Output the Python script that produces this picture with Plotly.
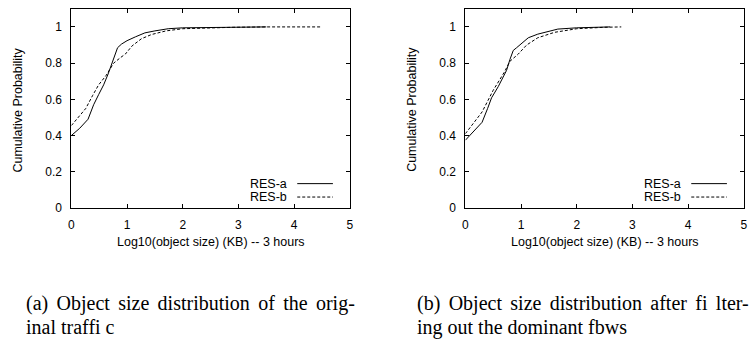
import plotly.graph_objects as go

# Panel (a): original traffic
a_resa_x = [0, 0.15, 0.30, 0.40, 0.49, 0.58, 0.66, 0.73, 0.79, 0.83, 0.90, 1.0, 1.15, 1.32, 1.5, 1.74, 2.0, 2.5, 3.0, 3.5]
a_resa_y = [0.40, 0.44, 0.49, 0.57, 0.626, 0.68, 0.74, 0.80, 0.85, 0.885, 0.905, 0.924, 0.945, 0.967, 0.978, 0.99, 0.995, 0.998, 1.0, 1.0]
a_resb_x = [0, 0.13, 0.26, 0.38, 0.49, 0.62, 0.76, 0.88, 0.97, 1.09, 1.26, 1.44, 1.7, 2.0, 2.5, 2.92, 3.5, 4.0, 4.47]
a_resb_y = [0.455, 0.50, 0.55, 0.62, 0.68, 0.73, 0.80, 0.83, 0.85, 0.895, 0.935, 0.958, 0.978, 0.99, 0.995, 0.998, 1.0, 1.0, 1.0]

# Panel (b): after filtering out the dominant flows
b_resa_x = [0, 0.05, 0.15, 0.30, 0.40, 0.47, 0.59, 0.66, 0.74, 0.80, 0.86, 0.92, 0.98, 1.04, 1.13, 1.3, 1.5, 1.66, 2.0, 2.3, 2.6]
b_resa_y = [0.374, 0.39, 0.42, 0.473, 0.55, 0.608, 0.67, 0.71, 0.76, 0.82, 0.87, 0.885, 0.90, 0.92, 0.94, 0.96, 0.975, 0.988, 0.995, 0.998, 1.0]
b_resb_x = [0, 0.15, 0.30, 0.50, 0.70, 0.80, 0.95, 1.1, 1.3, 1.6, 2.0, 2.5, 2.8]
b_resb_y = [0.41, 0.47, 0.53, 0.65, 0.75, 0.81, 0.85, 0.90, 0.94, 0.97, 0.99, 0.998, 1.0]

x_ticks = [0, 1, 2, 3, 4, 5]
y_ticks = [0, 0.2, 0.4, 0.6, 0.8, 1]
y_tick_labels = ["0", "0.2", "0.4", "0.6", "0.8", "1"]
series_names = ["RES-a", "RES-b"]
x_title = "Log10(object size) (KB) -- 3 hours"
y_title = "Cumulative Probability"
captions = [
    ["(a) Object size distribution of the orig-", "inal traffi c"],
    ["(b) Object size distribution after fi lter-", "ing out the dominant fbws"],
]

W, H = 755, 339
panels = [
    dict(x0=69, x1=350, data=[(a_resa_x, a_resa_y), (a_resb_x, a_resb_y)], cap_x=21, ylab_x=15),
    dict(x0=466.7, x1=747.7, data=[(b_resa_x, b_resa_y), (b_resb_x, b_resb_y)], cap_x=416, ylab_x=413),
]
y_top, y_bot = 9, 212.3

fig = go.Figure()
dashes = ["solid", "3px,2px"]
sans = "Liberation Sans, Arial, sans-serif"
serif = "Liberation Serif, Times New Roman, serif"


def spaced(s):
    # justified caption text: widen inter-word spaces slightly
    return s.replace(" ", " \u200a\u200a")


for i, p in enumerate(panels):
    xa = "x" if i == 0 else "x2"
    ya = "y" if i == 0 else "y2"
    for j, (xs, ys) in enumerate(p["data"]):
        fig.add_trace(go.Scatter(x=xs, y=ys, mode="lines", name=series_names[j],
                                 xaxis=xa, yaxis=ya, showlegend=False,
                                 line=dict(color="black", width=1, dash=dashes[j])))
    axis_common = dict(showgrid=False, zeroline=False, showline=True, linecolor="black",
                       linewidth=1, mirror="ticks", ticks="inside", ticklen=4,
                       tickcolor="black", tickfont=dict(family=sans, size=12, color="black"))
    key = "" if i == 0 else "2"
    fig.update_layout(**{
        "xaxis" + key: dict(domain=[p["x0"] / W, p["x1"] / W], range=[0, 5], tickvals=x_ticks,
                            anchor=ya, ticklabelstandoff=6, **axis_common),
        "yaxis" + key: dict(domain=[1 - y_bot / H, 1 - y_top / H], range=[0, 1.1],
                            tickvals=y_ticks, ticktext=y_tick_labels, anchor=xa,
                            ticklabelstandoff=6, **axis_common),
    })
    # axis titles
    fig.add_annotation(x=(p["x0"] + p["x1"]) / 2 / W, y=1 - 247.5 / H, xref="paper", yref="paper",
                       text=x_title, showarrow=False, xanchor="center", yanchor="middle",
                       font=dict(family=sans, size=12.5, color="black"))
    fig.add_annotation(x=p["ylab_x"] / W, y=1 - 112 / H, xref="paper", yref="paper",
                       text=y_title, textangle=-90, showarrow=False, xanchor="center",
                       yanchor="middle", font=dict(family=sans, size=12.5, color="black"))
    # legend (gnuplot style: text then line sample)
    for j, name in enumerate(series_names):
        ly = 187.5 + j * 13.7
        fig.add_annotation(x=(p["x1"] - 61) / W, y=1 - ly / H, xref="paper", yref="paper",
                           text=name, showarrow=False, xanchor="right", yanchor="middle",
                           font=dict(family=sans, size=12.5, color="black"))
        fig.add_shape(type="line", xref="paper", yref="paper",
                      x0=(p["x1"] - 53) / W, x1=(p["x1"] - 17) / W,
                      y0=1 - ly / H, y1=1 - ly / H,
                      line=dict(color="black", width=1, dash=dashes[j]))
    # caption lines
    for k, line in enumerate(captions[i]):
        fig.add_annotation(x=p["cap_x"] / W, y=1 - (310 + 24 * k) / H, xref="paper", yref="paper",
                           text=spaced(line) if k == 0 else line, showarrow=False,
                           xanchor="left", yanchor="middle", align="left",
                           font=dict(family=serif, size=20, color="black"))

fig.update_layout(width=W, height=H, margin=dict(l=0, r=0, t=0, b=0),
                  paper_bgcolor="white", plot_bgcolor="white", showlegend=False)
fig.write_html("out.html")
